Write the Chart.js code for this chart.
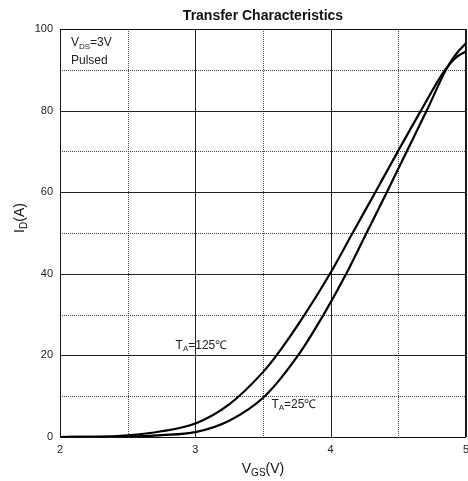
<!DOCTYPE html>
<html lang="en">
<head>
    <meta charset="UTF-8">
    <title>Transfer Characteristics</title>
    <script src="https://cdn.jsdelivr.net/npm/chart.js"></script>
    <style>
        html, body { margin: 0; padding: 0; background: white; }
        #wrap { width: 468px; height: 481px; }
    </style>
</head>
<body>
    <div id="wrap"><canvas id="tc"></canvas></div>
    <script>
        // values (VGS in V, ID in A)
        const vgs125 = [2.0, 2.25, 2.5, 2.75, 3.0, 3.25, 3.5, 3.6, 3.808, 3.995, 4.162, 4.330, 4.497, 4.667, 4.845, 4.925, 5.0];
        const id125  = [0, 0.05, 0.4, 1.4, 3.3, 8.0, 15.9, 20, 30, 40, 50, 60, 70, 80, 90, 93, 94.5];
        const vgs25  = [2.0, 2.5, 2.75, 3.0, 3.25, 3.513, 3.759, 3.948, 4.115, 4.265, 4.415, 4.562, 4.710, 4.852, 4.93, 5.0];
        const id25   = [0, 0.1, 0.45, 1.2, 4.0, 10, 20, 30, 40, 50, 60, 70, 80, 90, 94, 96.5];

        const xTicks = [2, 3, 4, 5];
        const xMinor = [2.5, 3.5, 4.5];
        const yTicks = [0, 20, 40, 60, 80, 100];
        const yMinor = [10, 30, 50, 70, 90];

        const FONT = "'Liberation Sans', Arial, sans-serif";

        function toPoints(xs, ys) {
            return xs.map((x, i) => ({ x: x, y: ys[i] }));
        }

        // draws text where some parts are subscripts, left aligned at x, middle baseline at y
        function drawParts(ctx, parts, x, y, size) {
            let cx = x;
            parts.forEach(p => {
                const s = p.sub ? Math.round(size * 0.7) : size;
                ctx.font = s + "px " + FONT;
                ctx.textBaseline = "middle";
                ctx.textAlign = "left";
                ctx.fillText(p.t, cx, p.sub ? y + size * 0.3 : y);
                cx += ctx.measureText(p.t).width;
            });
            return cx - x;
        }
        function partsWidth(ctx, parts, size) {
            let w = 0;
            parts.forEach(p => {
                const s = p.sub ? Math.round(size * 0.7) : size;
                ctx.font = s + "px " + FONT;
                w += ctx.measureText(p.t).width;
            });
            return w;
        }

        const decor = {
            id: "decor",
            beforeDatasetsDraw(chart) {
                const { ctx, chartArea: a, scales: { x, y } } = chart;
                ctx.save();
                ctx.lineWidth = 1;
                // dotted half-step grid
                ctx.strokeStyle = "#444";
                ctx.setLineDash([1, 1]);
                xMinor.forEach(v => {
                    const px = Math.round(x.getPixelForValue(v)) + 0.5;
                    ctx.beginPath(); ctx.moveTo(px, a.top); ctx.lineTo(px, a.bottom); ctx.stroke();
                });
                yMinor.forEach(v => {
                    const py = Math.round(y.getPixelForValue(v)) + 0.5;
                    ctx.beginPath(); ctx.moveTo(a.left, py); ctx.lineTo(a.right, py); ctx.stroke();
                });
                // solid major grid
                ctx.setLineDash([]);
                ctx.strokeStyle = "#222";
                xTicks.forEach(v => {
                    const px = Math.round(x.getPixelForValue(v)) + 0.5;
                    ctx.beginPath(); ctx.moveTo(px, a.top); ctx.lineTo(px, a.bottom); ctx.stroke();
                });
                yTicks.forEach(v => {
                    const py = Math.round(y.getPixelForValue(v)) + 0.5;
                    ctx.beginPath(); ctx.moveTo(a.left, py); ctx.lineTo(a.right, py); ctx.stroke();
                });
                ctx.strokeStyle = "#111";
                ctx.strokeRect(Math.round(a.left) + 0.5, Math.round(a.top) + 0.5,
                    Math.round(a.right - a.left) - 1, Math.round(a.bottom - a.top));
                ctx.restore();
            },
            afterDraw(chart) {
                const { ctx, chartArea: a, scales: { x, y } } = chart;
                ctx.save();
                ctx.fillStyle = "#111";

                // title
                ctx.font = "bold 14px " + FONT;
                ctx.textAlign = "center";
                ctx.textBaseline = "middle";
                ctx.fillText("Transfer Characteristics", (a.left + a.right) / 2, 16);

                // x axis title
                const xt = [{ t: "V" }, { t: "GS", sub: true }, { t: "(V)" }];
                const xw = partsWidth(ctx, xt, 14);
                drawParts(ctx, xt, (a.left + a.right) / 2 - xw / 2, 469, 14);

                // y axis title, rotated
                const yt = [{ t: "I" }, { t: "D", sub: true }, { t: "(A)" }];
                const yw = partsWidth(ctx, yt, 14);
                ctx.save();
                ctx.translate(20, 218);
                ctx.rotate(-Math.PI / 2);
                drawParts(ctx, yt, -yw / 2, 0, 14);
                ctx.restore();

                // notes inside the plot
                ctx.fillStyle = "#222";
                drawParts(ctx, [{ t: "V" }, { t: "DS", sub: true }, { t: "=3V" }],
                    x.getPixelForValue(2.081), y.getPixelForValue(96.6), 12);
                drawParts(ctx, [{ t: "Pulsed" }],
                    x.getPixelForValue(2.081), y.getPixelForValue(92.2), 12);
                drawParts(ctx, [{ t: "T" }, { t: "A", sub: true }, { t: "=125\u2103" }],
                    x.getPixelForValue(2.854), y.getPixelForValue(22.5), 12);
                drawParts(ctx, [{ t: "T" }, { t: "A", sub: true }, { t: "=25\u2103" }],
                    x.getPixelForValue(3.562), y.getPixelForValue(8.0), 12);
                ctx.restore();
            }
        };

        const chart = new Chart(document.getElementById("tc"), {
            type: "line",
            data: {
                datasets: [
                    {
                        label: "TA=125C",
                        data: toPoints(vgs125, id125),
                        borderColor: "#000",
                        borderWidth: 2.2,
                        pointRadius: 0,
                        cubicInterpolationMode: "monotone",
                        fill: false
                    },
                    {
                        label: "TA=25C",
                        data: toPoints(vgs25, id25),
                        borderColor: "#000",
                        borderWidth: 2.2,
                        pointRadius: 0,
                        cubicInterpolationMode: "monotone",
                        fill: false
                    }
                ]
            },
            options: {
                responsive: true,
                maintainAspectRatio: false,
                animation: false,
                layout: { padding: { top: 29, right: 2, left: 0, bottom: 0 } },
                plugins: {
                    legend: { display: false },
                    title: { display: false },
                    tooltip: { enabled: false }
                },
                scales: {
                    x: {
                        type: "linear",
                        min: 2, max: 5,
                        grid: { display: false, drawTicks: false },
                        border: { display: false },
                        afterBuildTicks: s => { s.ticks = xTicks.map(v => ({ value: v })); },
                        afterFit: s => { s.height = 44; s.paddingLeft = 0; s.paddingRight = 0; },
                        ticks: {
                            padding: 6,
                            color: "#222",
                            font: { family: FONT, size: 11 },
                            maxRotation: 0
                        }
                    },
                    y: {
                        min: 0, max: 100,
                        grid: { display: false, drawTicks: false },
                        border: { display: false },
                        afterBuildTicks: s => { s.ticks = yTicks.map(v => ({ value: v })); },
                        afterFit: s => { s.width = 60; s.paddingTop = 0; s.paddingBottom = 0; },
                        ticks: {
                            padding: 7,
                            color: "#222",
                            font: { family: FONT, size: 11 }
                        }
                    }
                }
            },
            plugins: [decor]
        });
    </script>
</body>
</html>
